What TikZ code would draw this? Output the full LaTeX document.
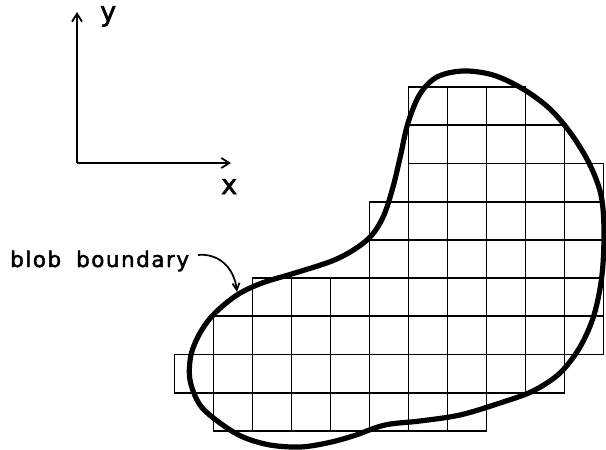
\documentclass[tikz,border=0pt]{standalone}
\usepackage{fontspec}
\setmainfont{DejaVu Sans}
\newfontfamily\lblfont[FakeBold=2]{DejaVu Sans}
\usetikzlibrary{arrows.meta}
\begin{document}
\begin{tikzpicture}[x=1pt,y=-1pt,
  gridline/.style={line width=1.8pt},
  blobline/.style={line width=5.2pt, line join=round},
  axisline/.style={line width=1.8pt, -{Straight Barb[length=8pt,width=10pt,line width=1.8pt]}},
  labelarrow/.style={line width=1.7pt, -{Straight Barb[length=7pt,width=7pt,line width=1.7pt]}},
  axlabel/.style={font=\lblfont\fontsize{27}{27}\selectfont, inner sep=0pt, anchor=base west},
  txtlabel/.style={font=\lblfont\fontsize{21.5}{21.5}\selectfont, inner sep=0pt, anchor=base west}]
\useasboundingbox (0,0) rectangle (606,450);
\fill[white] (0,0) rectangle (606,450);
% grid of pixels
\foreach \r/\a/\b in {0/6/8,1/6/9,2/6/10,3/5/10,4/5/10,5/2/10,6/1/10,7/0/9,8/1/7}{
  \foreach \c in {\a,...,\b}{
    \draw[gridline] ({174.5+39*\c},{87+38.2*\r}) rectangle ({174.5+39*(\c+1)},{87+38.2*(\r+1)});
  }
}
% blob boundary
\draw[blobline] plot[smooth cycle, tension=0.55] coordinates {
 (463,71) (493,75) (523,89) (550,109) (572,135) (590,165) (601,195) (604,230)
 (602,275) (594,315) (580,347) (560,373) (533,391) (500,403) (460,415) (420,421)
 (385,425) (353,436) (327,443) (300,447) (270,445) (243,437) (220,423) (200,405)
 (190,380) (191,355) (200,333) (214,314) (237,295) (262,283) (295,273) (332,261)
 (355,249) (372,235) (384,215) (393,187) (400,158) (408,123) (420,94) (437,77)};
% axes
\coordinate (o) at (77,163);
\coordinate (ytip) at (77,12);
\coordinate (xtip) at (231,163);
\draw[axisline] (o) -- (ytip);
\draw[axisline] (o) -- (xtip);
\node[axlabel] (ylab) at (100,21) {y};
\node[axlabel] (xlab) at (221,194) {x};
% label
\node[txtlabel] (lbl) at (10,267) {b\kern1.5pt l\kern1.5pt o\kern1.5pt b\hspace{15pt}b\kern1.5pt o\kern1.5pt u\kern1.5pt n\kern1.5pt d\kern1.5pt a\kern1.5pt r\kern1.5pt y};
\coordinate (astart) at (198,255);
\coordinate (aend) at (237,292);
\draw[labelarrow] (astart) .. controls (217,253) and (234,266) .. (aend);
\end{tikzpicture}
\end{document}
